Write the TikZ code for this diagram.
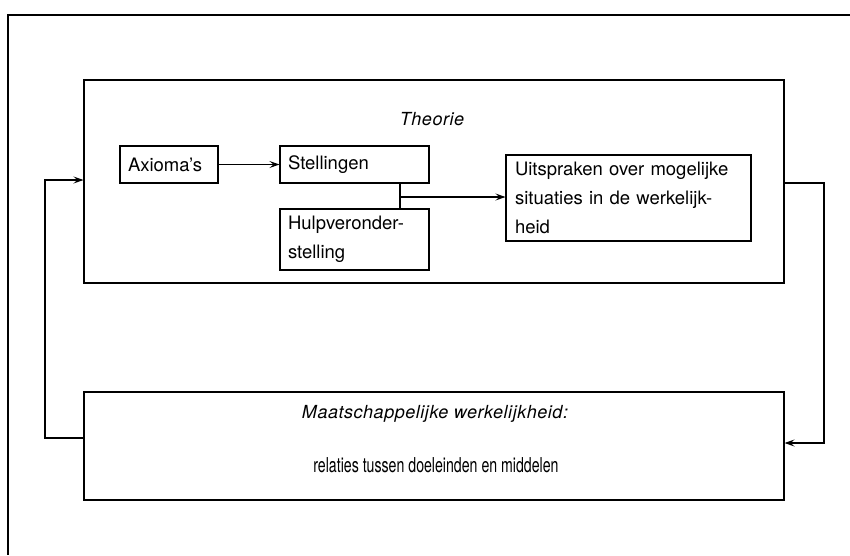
\documentclass[tikz,border=0pt]{standalone}
\usepackage{fontspec}
\setmainfont{TeX Gyre Heros}
\newfontfamily\condfont[FakeStretch=0.69]{TeX Gyre Heros}
\newfontfamily\labfont[LetterSpace=3]{TeX Gyre Heros}
\usetikzlibrary{arrows.meta}
\begin{document}
\begin{tikzpicture}[x=1pt,y=-1pt,
  line/.style={line width=1.1pt},
  arr/.style={line, -{Stealth[length=10pt,width=7pt,inset=4pt]}},
  box/.style={draw, line width=1.1pt, inner sep=0pt, align=left, font=\fontsize{18.5}{29}\selectfont},
  frame/.style={draw, line width=1.1pt, inner sep=0pt},
  lab/.style={font=\labfont\fontsize{18}{20}\selectfont\itshape},
  txt/.style={font=\condfont\fontsize{20.5}{22}\selectfont}]
\useasboundingbox (0,0) rectangle (850,555);
% outer frame (top and left only)
\draw[line] (850,15) -- (8,15) -- (8,555);
% big boxes
\node[frame, minimum width=700pt, minimum height=203pt] (T) at (434,181.5) {};
\node[lab] (Tl) at (432,119) {Theorie};
\node[frame, minimum width=700pt, minimum height=108pt] (M) at (434,446) {};
\node[lab] (Ml) at (435,414) {Maatschappelijke werkelijkheid:};
\node[txt] (Mt) at (436,465) {relaties tussen doeleinden en middelen};
% inner boxes
\node[box, minimum width=98pt, minimum height=37pt, text width=82pt] (A) at (169,164.5) {Axioma's};
\node[box, minimum width=149pt, minimum height=37pt, text width=133pt] (S) at (354.5,164.5) {Stellingen};
\node[box, minimum width=149pt, minimum height=61pt, text width=133pt] (H) at (354.5,239.5) {Hulpveronder-\\stelling};
\node[box, minimum width=245pt, minimum height=86pt, text width=227pt] (U) at (628.5,198) {Uitspraken over mogelijke\\situaties in de werkelijk-\\heid};
% connectors
\draw[arr] (A) -- (S);
\coordinate (j) at (400,197);
\draw[line] (S.south -| j) -- (H.north -| j);
\draw[arr] (j) -- (U.west |- j);
% feedback loops
\coordinate (lb) at (45,438);
\coordinate (lt) at (45,180);
\draw[arr] (M.west |- lb) -- (lb) -- (lt) -- (T.west |- lt);
\coordinate (rt) at (824,183);
\coordinate (rb) at (824,443);
\draw[arr] (T.east |- rt) -- (rt) -- (rb) -- (M.east |- rb);
\end{tikzpicture}
\end{document}
